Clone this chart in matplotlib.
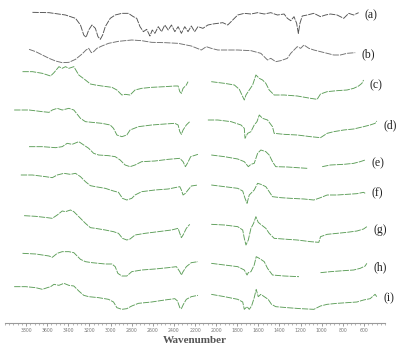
import numpy as np
import matplotlib
matplotlib.use("Agg")
import matplotlib.pyplot as plt
from matplotlib.ticker import MultipleLocator, FixedLocator

nan = np.nan

# ---- spectra: wavenumber (cm-1) and absorption depth (arb. units, larger = lower) ----
wn_a = [3740, 3583, 3427, 3332, 3285, 3254, 3232, 3207, 3176, 3144, 3119, 3097, 3075, 3050, 3003, 2956, 2893, 2831,
        2784, 2752, 2721, 2689, 2658, 2627, 2605, 2580, 2548, 2517, 2486, 2454, 2423, 2391, 2360, 2329, 2297, 2266,
        2235, 2203, 2172, 2125, 2078, 2031, 1984, 1937, 1890, 1858, 1827, 1795, 1733, 1670, 1607, 1544, 1482, 1419,
        1356, 1325, 1293, 1262, 1237, 1221, 1206, 1184, 1137, 1074, 1011, 964, 917, 854, 791, 744, 697, 650]
dep_a = [37, 38, 45, 55, 75, 105, 112, 90, 75, 85, 110, 118, 105, 80, 55, 45, 40, 40,
         50, 55, 80, 95, 88, 108, 90, 100, 80, 95, 75, 90, 75, 95, 80, 100, 80, 95,
         78, 95, 80, 85, 75, 72, 70, 68, 75, 65, 55, 45, 40, 42, 38, 42, 38, 45,
         42, 55, 62, 50, 70, 100, 70, 48, 45, 40, 50, 45, 42, 45, 55, 40, 45, 38]

wn_b = [3772, 3709, 3646, 3583, 3521, 3458, 3395, 3332, 3270, 3232, 3207, 3182, 3160, 3129, 3082, 3019, 2925, 2799,
        2705, 2611, 2486, 2360, 2235, 2140, 2093, 2046, 1984, 1890, 1795, 1670, 1576, 1513, 1482, 1435, 1388, 1325,
        1293, 1262, 1231, 1199, 1168, 1121, 1074, 1011, 948, 886, 823, 760, 682]
dep_b = [148, 155, 165, 175, 183, 188, 187, 178, 162, 150, 145, 158, 155, 145, 138, 130, 124, 120,
         122, 127, 128, 130, 138, 150, 140, 145, 150, 150, 150, 152, 160, 180, 175, 185, 182, 175,
         160, 150, 140, 145, 135, 145, 150, 155, 160, 165, 165, 160, 158]

wn_c = [3834, 3740, 3646, 3568, 3536, 3489, 3458, 3427, 3395, 3348, 3301, 3238, 3191, 3144, 3082, 2987, 2940, 2893,
        2862, 2815, 2768, 2705, 2611, 2486, 2391, 2360, 2344, 2329, 2313, 2282, 2266, 2150,
        2046, 1921, 1827, 1780, 1748, 1733, 1717, 1686, 1654, 1623, 1591, 1560, 1529, 1497, 1450, 1356, 1231,
        1105, 1043, 1011, 948, 854, 760, 697, 650, 619, 603]
dep_c = [215, 215, 220, 228, 218, 200, 205, 200, 205, 200, 225, 240, 252, 255, 258, 262, 270, 285,
         283, 285, 270, 265, 262, 260, 258, 258, 275, 280, 265, 255, 245, nan,
         245, 250, 255, 268, 290, 300, 285, 270, 255, 225, 235, 240, 250, 270, 285, 285, 288,
         295, 298, 282, 275, 272, 270, 265, 258, 250, 240]

wn_d = [3913, 3772, 3646, 3583, 3552, 3505, 3458, 3395, 3348, 3285, 3238, 3176, 3082, 3003, 2972, 2940, 2893, 2846,
        2815, 2736, 2611, 2486, 2391, 2360, 2344, 2329, 2313, 2282, 2250, 2160,
        2078, 1984, 1858, 1764, 1733, 1726, 1701, 1670, 1639, 1613, 1591, 1560, 1513, 1466, 1450, 1356, 1231,
        1105, 1011, 948, 886, 791, 697, 603, 541, 494, 478]
dep_d = [15, 15, 20, 22, 15, 10, 15, 10, 15, 40, 50, 52, 55, 60, 70, 90, 95, 90,
         75, 65, 60, 57, 55, 60, 80, 88, 75, 60, 50, nan,
         45, 45, 50, 60, 70, 100, 85, 80, 60, 50, 30, 40, 45, 65, 85, 88, 90,
         95, 98, 85, 80, 75, 72, 65, 60, 55, 48]

wn_e = [3772, 3646, 3521, 3458, 3411, 3364, 3301, 3254, 3207, 3160, 3113, 3019, 2956, 2909, 2862, 2815, 2768, 2705,
        2580, 2454, 2344, 2313, 2291, 2272, 2241, 2172, 2110,
        2046, 1921, 1795, 1733, 1695, 1670, 1639, 1607, 1576, 1529, 1497, 1466, 1435, 1325, 1231, 1137, 1065,
        995, 917, 791, 697, 635, 588]
dep_e = [125, 125, 128, 125, 115, 118, 110, 120, 130, 145, 150, 152, 155, 165, 180, 185, 180, 170,
         168, 163, 160, 170, 185, 175, 155, 148, nan,
         150, 155, 162, 170, 185, 178, 175, 145, 135, 140, 150, 170, 185, 186, 188, 190, nan,
         185, 180, 178, 175, 170, 165]

wn_f = [3850, 3740, 3615, 3552, 3505, 3442, 3380, 3332, 3285, 3238, 3191, 3144, 3050, 2972, 2925, 2887, 2846, 2799,
        2768, 2705, 2580, 2454, 2344, 2329, 2313, 2291, 2266, 2235, 2172, 2110,
        2046, 1921, 1795, 1748, 1726, 1707, 1686, 1639, 1607, 1576, 1529, 1497, 1466, 1388, 1293, 1168,
        1074, 1011, 948, 854, 760, 666, 603, 588]
dep_f = [210, 210, 215, 218, 210, 205, 208, 205, 215, 230, 242, 245, 250, 258, 262, 280, 285, 280,
         270, 260, 255, 252, 245, 255, 270, 265, 255, 243, 240, nan,
         240, 245, 250, 258, 280, 295, 270, 255, 235, 238, 245, 260, 275, 278, 280, 282,
         285, 278, 270, 270, 268, 266, 262, 265]

wn_g = [3819, 3709, 3599, 3552, 3505, 3458, 3427, 3380, 3348, 3285, 3238, 3191, 3144, 3050, 2972, 2925, 2887, 2846,
        2815, 2768, 2674, 2548, 2423, 2360, 2344, 2329, 2313, 2282, 2250, 2150,
        2046, 1921, 1795, 1748, 1733, 1717, 1695, 1670, 1645, 1623, 1601, 1570, 1529, 1497, 1450, 1325, 1231,
        1105, 1027, 1011, 948, 854, 760, 666, 603, 572]
dep_g = [22, 24, 28, 30, 20, 8, 10, 5, 10, 30, 45, 58, 60, 65, 70, 75, 90, 95,
         92, 80, 75, 70, 65, 60, 75, 88, 80, 60, 48, nan,
         48, 50, 55, 65, 90, 110, 95, 60, 45, 25, 42, 50, 60, 75, 90, 93, 95,
         100, 102, 85, 78, 75, 72, 68, 62, 55]

wn_h = [3834, 3709, 3583, 3552, 3505, 3458, 3395, 3348, 3285, 3238, 3176, 3050, 2987, 2956, 2931, 2893, 2846, 2799,
        2705, 2580, 2454, 2376, 2344, 2329, 2313, 2282, 2235, 2172, 2110,
        2046, 1921, 1795, 1733, 1707, 1695, 1670, 1639, 1620, 1591, 1544, 1513, 1466, 1356, 1215, 1110,
        1011, 917, 791, 697, 635, 588, 572]
dep_h = [140, 142, 148, 152, 140, 135, 135, 138, 158, 165, 168, 172, 172, 180, 200, 208, 208, 195,
         190, 187, 183, 180, 195, 205, 195, 180, 168, 165, nan,
         170, 175, 180, 190, 205, 198, 195, 175, 150, 155, 165, 185, 205, 208, 210, nan,
         198, 195, 192, 190, 185, 178, 170]

wn_i = [3913, 3803, 3709, 3646, 3599, 3568, 3536, 3489, 3442, 3395, 3348, 3301, 3254, 3207, 3113, 3019, 2972, 2940,
        2893, 2846, 2799, 2736, 2611, 2486, 2391, 2366, 2344, 2329, 2310, 2282, 2235, 2172, 2110,
        2046, 1921, 1795, 1748, 1733, 1707, 1686, 1664, 1639, 1620, 1601, 1576, 1544, 1507, 1475, 1435, 1325,
        1199, 1074, 1011, 948, 854, 760, 666, 603, 541, 494, 478]
dep_i = [232, 232, 235, 240, 235, 232, 225, 228, 222, 228, 230, 245, 258, 262, 265, 270, 278, 295,
         300, 298, 290, 282, 278, 272, 268, 275, 295, 298, 285, 270, 262, 258, nan,
         255, 262, 270, 278, 300, 292, 300, 290, 265, 240, 262, 255, 262, 270, 285, 292, 295,
         298, 300, 290, 285, 282, 280, 278, 272, 268, 255, 262]

names = ["(a)", "(b)", "(c)", "(d)", "(e)", "(f)", "(g)", "(h)", "(i)"]
spectra = [(wn_a, dep_a), (wn_b, dep_b), (wn_c, dep_c), (wn_d, dep_d), (wn_e, dep_e),
           (wn_f, dep_f), (wn_g, dep_g), (wn_h, dep_h), (wn_i, dep_i)]
shifts = [0, 0, 0, 315, 315, 315, 625, 620, 628]
colors = ["#333333", "#555555"] + ["#3f8c3a"] * 7

fig = plt.figure(figsize=(3.96, 3.45), dpi=100)
ax = fig.add_axes([5 / 396, 1 - 323 / 345, 380 / 396, 323 / 345])

for (wn, dep), name, sh, col in zip(spectra, names, shifts, colors):
    wn = np.array(wn, dtype=float)
    dep = np.array(dep, dtype=float)
    ax.plot(wn, -(dep + sh), color=col, lw=0.65, alpha=0.85, ls=(0, (7, 1.2)))
    tail = dep[~np.isnan(dep)][-5:]
    ax.text(wn[-1] - 60, -(tail.mean() + sh), name, fontsize=8.5, family="Liberation Serif",
            ha="left", va="center", color="#222222", clip_on=False)

ax.set_xlim(4000, 400)
ax.set_ylim(-969, 0)
ax.set_yticks([])
for side in ["left", "right", "top"]:
    ax.spines[side].set_visible(False)
ax.spines["bottom"].set_color("#9a9a9a")
ax.spines["bottom"].set_linewidth(0.8)

ax.xaxis.set_major_locator(FixedLocator(np.arange(3800, 500, -200)))
ax.xaxis.set_minor_locator(MultipleLocator(40))
ax.tick_params(axis="x", which="major", length=2, width=0.6, color="#8a8a8a",
               labelsize=3.3, labelcolor="#777777", pad=1.5)
ax.tick_params(axis="x", which="minor", length=1.2, width=0.5, color="#9a9a9a")
ax.set_xlabel("Wavenumber", fontsize=8, family="Liberation Serif", fontweight="bold",
              color="#555555", labelpad=2)

fig.savefig("out.png", dpi=100)
